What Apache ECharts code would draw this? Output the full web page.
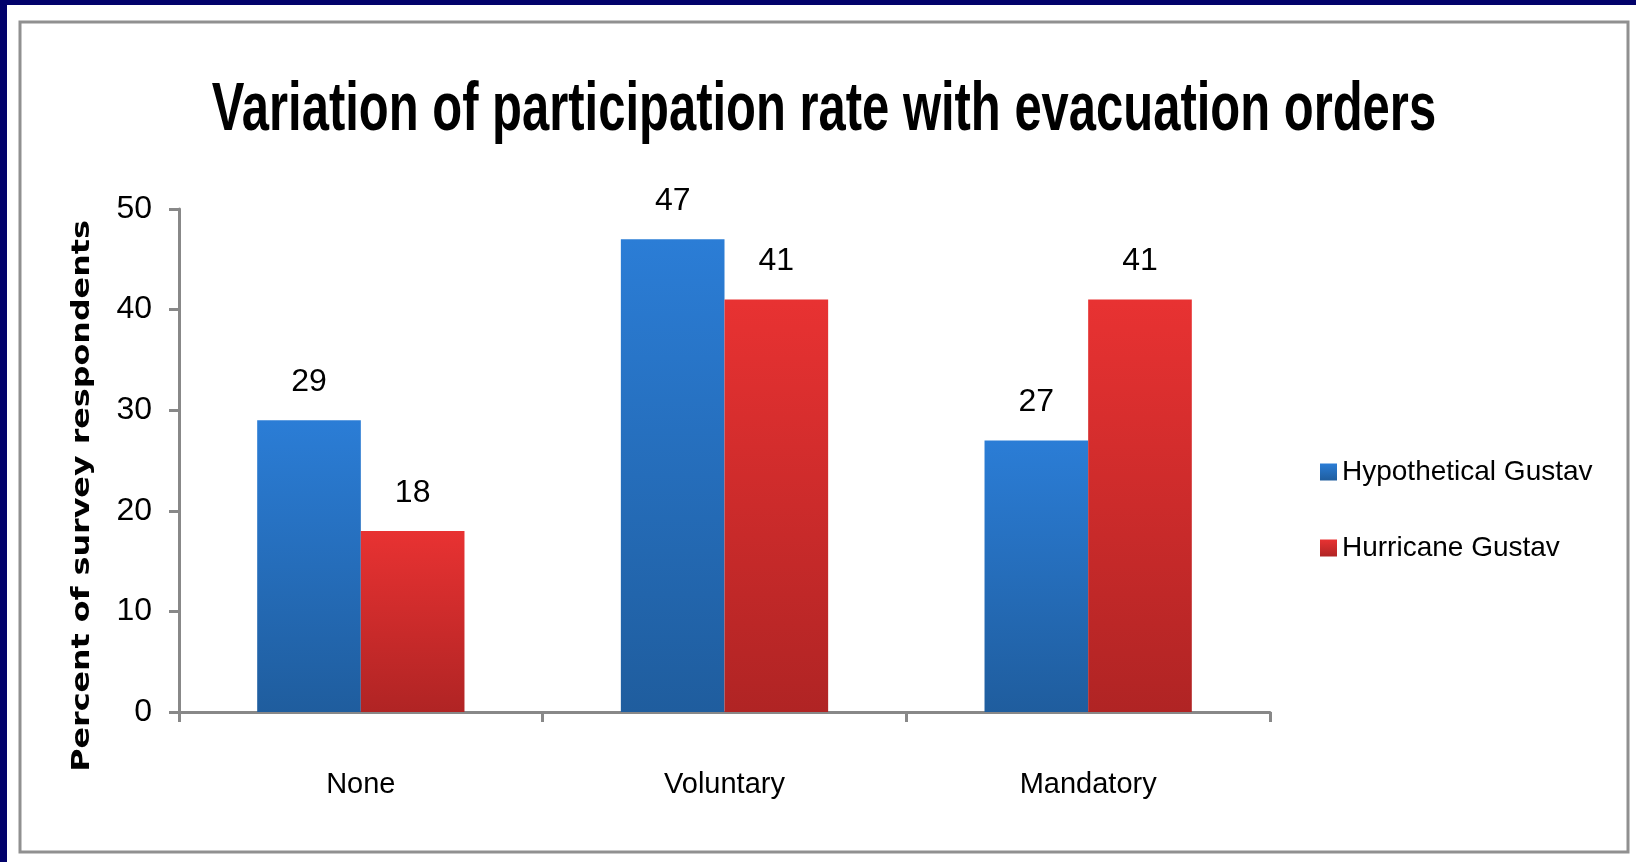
<!DOCTYPE html>
<html>
<head>
<meta charset="utf-8">
<script src="https://cdn.jsdelivr.net/npm/echarts@6/dist/echarts.min.js"></script>
<style>
  html, body { margin: 0; padding: 0; background: #fff; }
  #chart { width: 1636px; height: 862px; }
</style>
</head>
<body>
<div id="chart"></div>
<script>
const categories = ["None", "Voluntary", "Mandatory"];
const hypothetical = [29, 47, 27];
const hurricane = [18, 41, 41];
const seriesNames = ["Hypothetical Gustav", "Hurricane Gustav"];
const titleText = "Variation of participation rate with evacuation orders";
const yName = "Percent of survey respondents";

const sans = "'Liberation Sans', Arial, sans-serif";

const chart = echarts.init(document.getElementById("chart"));

const grad = (top, bottom) => new echarts.graphic.LinearGradient(0, 0, 0, 1, [
    { offset: 0, color: top },
    { offset: 1, color: bottom }
]);

const labelStyle = {
    show: true,
    position: "top",
    distance: 22,
    color: "#000",
    fontFamily: sans,
    fontSize: 32
};

chart.setOption({
    backgroundColor: "#fff",
    animation: false,
    graphic: [
        // navy strips along top and left edge
        { type: "rect", shape: { x: 0, y: 0, width: 1636, height: 5 }, style: { fill: "#02026b" } },
        { type: "rect", shape: { x: 0, y: 0, width: 7, height: 862 }, style: { fill: "#02026b" } },
        // grey frame
        { type: "rect", shape: { x: 20, y: 22, width: 1608, height: 830 },
          style: { fill: "none", stroke: "#909090", lineWidth: 3 } },
        // title, squeezed to look like the condensed original face
        { type: "text", x: 824, y: 111, scaleX: 0.72,
          style: { text: titleText, fontFamily: sans, fontWeight: "bold", fontSize: 68,
                   fill: "#000", textAlign: "center", textVerticalAlign: "middle" } },
        // y axis name, stretched along its length
        { type: "text", x: 82, y: 496, rotation: Math.PI / 2, scaleX: 1.27,
          style: { text: yName, fontFamily: "'DejaVu Sans', sans-serif", fontWeight: "bold", fontSize: 25,
                   fill: "#000", textAlign: "center", textVerticalAlign: "middle" } }
    ],
    legend: {
        orient: "vertical",
        left: 1315,
        top: 453,
        itemWidth: 17,
        itemHeight: 17,
        itemGap: 48,
        icon: "rect",
        textStyle: { fontFamily: sans, fontSize: 28, color: "#000" },
        data: seriesNames
    },
    grid: { left: 179, right: 366, top: 209, bottom: 150 },
    xAxis: {
        type: "category",
        data: categories,
        axisLine: { lineStyle: { color: "#888", width: 3 } },
        axisTick: { show: true, length: 10, lineStyle: { color: "#888", width: 3 } },
        axisLabel: { margin: 58, fontFamily: sans, fontSize: 29, color: "#000" }
    },
    yAxis: {
        type: "value",
        min: 0,
        max: 50,
        interval: 10,
        axisLine: { show: true, lineStyle: { color: "#888", width: 3 } },
        axisTick: { show: true, inside: false, length: 10, lineStyle: { color: "#888", width: 3 } },
        splitLine: { show: false },
        axisLabel: { margin: 27, fontFamily: sans, fontSize: 32, color: "#000" }
    },
    series: [
        {
            name: seriesNames[0],
            type: "bar",
            data: hypothetical,
            barGap: "0%",
            barCategoryGap: "43%",
            itemStyle: { color: grad("#2b7dd6", "#1f5d9e") },
            label: labelStyle
        },
        {
            name: seriesNames[1],
            type: "bar",
            data: hurricane,
            itemStyle: { color: grad("#e83232", "#b02424") },
            label: labelStyle
        }
    ]
});
</script>
</body>
</html>
